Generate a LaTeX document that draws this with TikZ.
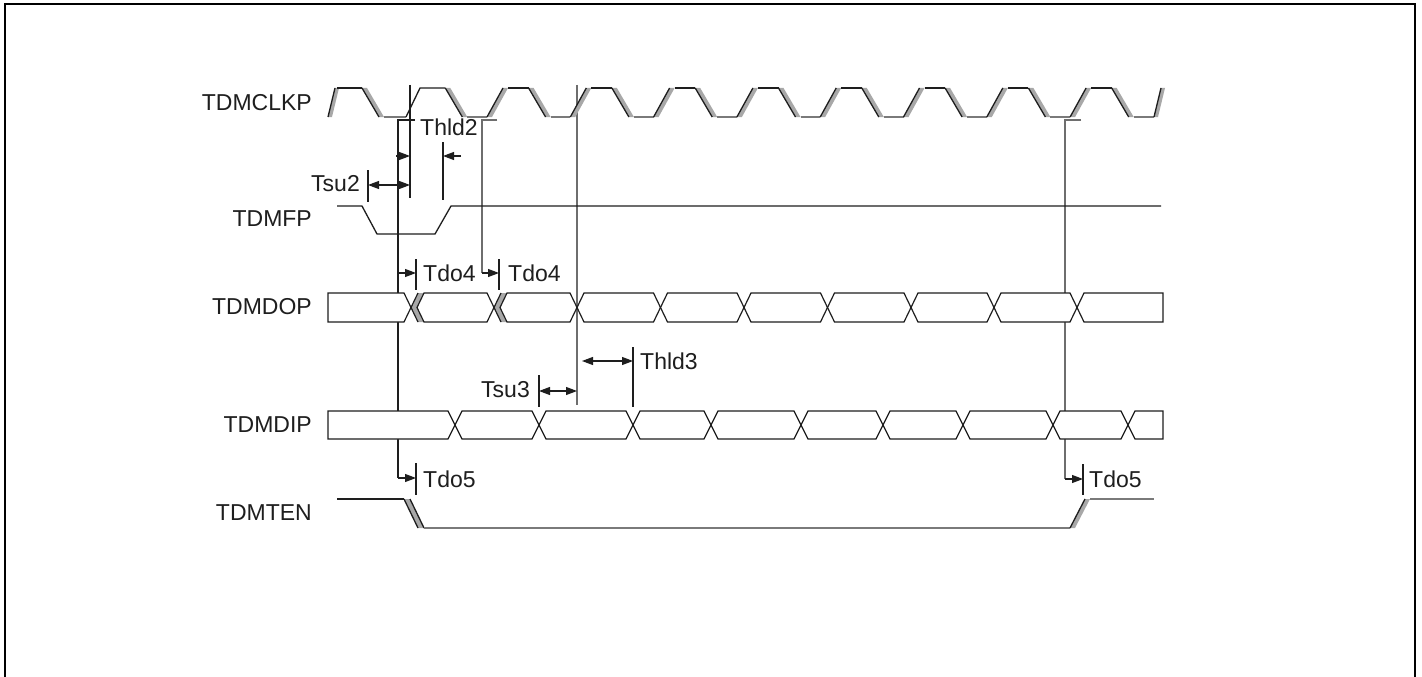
\documentclass[tikz,border=0pt]{standalone}
\usepackage{fontspec}
\setmainfont{Liberation Sans}
\usetikzlibrary{arrows.meta}
\definecolor{bandgray}{HTML}{A8A8A8}
\definecolor{lowgray}{HTML}{7A7A7A}
\definecolor{refgray}{HTML}{6E6E6E}
\definecolor{ink}{HTML}{1E1E1E}
\begin{document}
\begin{tikzpicture}[x=1pt,y=-1pt,
  sig/.style={draw=ink,line width=1.3pt,line join=miter},
  lowsig/.style={draw=lowgray,line width=1.3pt},
  band/.style={fill=bandgray},
  refl/.style={draw=refgray,line width=1.1pt},
  refk/.style={draw=ink,line width=1.1pt},
  tick/.style={draw=ink,line width=1.1pt},
  tri/.tip={Triangle[length=11pt,width=8pt]},
  arr/.style={draw=ink,line width=1.1pt},
  lbl/.style={inner sep=0pt,font=\fontsize{23}{27}\selectfont,text=ink},
  busbox/.style={draw=ink,line width=1.2pt,fill=white,line join=miter}]
\useasboundingbox (0,0) rectangle (1422,677);
\fill[white] (0,0) rectangle (1422,677);
% frame
\draw[line width=2.5pt,black] (5,690) -- (5,4) -- (1415,4) -- (1415,690);

% signal names
\node[lbl,anchor=east] (nclk) at (312,103) {TDMCLKP};
\node[lbl,anchor=east] (nfp)  at (312,219) {TDMFP};
\node[lbl,anchor=east] (ndop) at (312,307) {TDMDOP};
\node[lbl,anchor=east] (ndip) at (312,425) {TDMDIP};
\node[lbl,anchor=east] (nten) at (312,513) {TDMTEN};

% reference vertical lines (drawn first, hidden by bus boxes)
\draw[refk] (410,85) -- (410,198);
\draw[refk] (415,120) -- (398,120) -- (398,478);
\draw[refl] (497,120) -- (482,120) -- (482,273);
\draw[refl] (577,85) -- (577,405);
\draw[refl] (1081,120) -- (1065,120) -- (1065,479);

% ---------- TDMCLKP ----------
\fill[band] (328,117) -- (335,88) -- (339,88) -- (332,117) -- cycle;
\draw[sig] (328,117) -- (335,88);
\draw[sig] (337,88) -- (362,88);
\foreach \k in {0,...,9}{
  \pgfmathsetmacro\f{362+\k*83.3}
  \fill[band] (\f,88) -- (\f+17,117) -- (\f+22,117) -- (\f+5,88) -- cycle;
  \draw[sig] (\f,88) -- (\f+17,117);
}
\draw[lowsig] (384,117) -- (406,117);
\foreach \k in {1,...,8}{
  \pgfmathsetmacro\a{384+\k*83.3}
  \pgfmathsetmacro\b{487+(\k-1)*83.3}
  \draw[lowsig] (\a,117) -- (\b,117);
}
\draw[lowsig] (1133.7,117) -- (1154,117);
\draw[sig] (406,117) -- (420,88) -- (445.3,88);
\foreach \k in {0,...,7}{
  \pgfmathsetmacro\r{487+\k*83.3}
  \pgfmathsetmacro\f{528.6+\k*83.3}
  \fill[band] (\r,117) -- (\r+16,88) -- (\r+21,88) -- (\r+5,117) -- cycle;
  \draw[sig] (\r,117) -- (\r+16,88);
  \draw[sig] (\r+21,88) -- (\f,88);
}
\fill[band] (1154,117) -- (1161,88) -- (1165,88) -- (1158,117) -- cycle;
\draw[sig] (1154,117) -- (1161,88);

% ---------- TDMFP ----------
\draw[sig] (337,206) -- (362,206) -- (377,234) -- (435,234) -- (451,206) -- (1161,206);

% ---------- TDMDOP ----------
\def\bt{293}\def\bb{322}\def\bm{307.5}
\draw[busbox] (328,\bt) -- (404,\bt) -- (411,\bm) -- (404,\bb) -- (328,\bb) -- cycle;
% delayed transitions (gray bands)
\foreach \c in {411,494}{
  \fill[band] (\c+7,\bt) -- (\c,\bm) -- (\c+7,\bb) -- (\c+13,\bb) -- (\c+6,\bm) -- (\c+13,\bt) -- cycle;
  \draw[sig,line width=1.2pt] (\c+7,\bt) -- (\c,\bm) -- (\c+7,\bb);
}
\draw[busbox] (417,\bm) -- (424,\bt) -- (487,\bt) -- (494,\bm) -- (487,\bb) -- (424,\bb) -- cycle;
\draw[busbox] (500,\bm) -- (507,\bt) -- (570,\bt) -- (577,\bm) -- (570,\bb) -- (507,\bb) -- cycle;
\foreach \a/\b in {577/660.5,660.5/744,744/827.5,827.5/911,911/994,994/1077}{
  \draw[busbox] (\a,\bm) -- (\a+7,\bt) -- (\b-7,\bt) -- (\b,\bm) -- (\b-7,\bb) -- (\a+7,\bb) -- cycle;
}
\draw[busbox] (1077,\bm) -- (1084,\bt) -- (1163,\bt) -- (1163,\bb) -- (1084,\bb) -- cycle;

% ---------- TDMDIP ----------
\def\ct{411}\def\cb{439}\def\cm{425}
\draw[busbox] (328,\ct) -- (448,\ct) -- (455,\cm) -- (448,\cb) -- (328,\cb) -- cycle;
\foreach \a/\b in {455/539,539/633,633/711,711/801,801/883,883/963,963/1053,1053/1128}{
  \draw[busbox] (\a,\cm) -- (\a+7,\ct) -- (\b-7,\ct) -- (\b,\cm) -- (\b-7,\cb) -- (\a+7,\cb) -- cycle;
}
\draw[busbox] (1128,\cm) -- (1135,\ct) -- (1163,\ct) -- (1163,\cb) -- (1135,\cb) -- cycle;

% ---------- TDMTEN ----------
\draw[sig] (337,499) -- (404,499);
\fill[band] (404,499) -- (418,528) -- (424,528) -- (410,499) -- cycle;
\draw[sig] (404,499) -- (418,528);
\draw[sig] (410,499) -- (424,528);
\draw[lowsig] (424,528) -- (1070,528);
\fill[band] (1070,528) -- (1085,499) -- (1090,499) -- (1075,528) -- cycle;
\draw[sig] (1070,528) -- (1085,499);
\draw[lowsig] (1090,499) -- (1154,499);

% ---------- timing ticks ----------
\draw[tick] (368,170) -- (368,202);
\draw[tick] (443,142) -- (443,200);
\draw[tick] (416,259) -- (416,290);
\draw[tick] (499,259) -- (499,290);
\draw[tick] (539,375) -- (539,407);
\draw[tick] (633,347) -- (633,407);
\draw[tick] (416,463) -- (416,495);
\draw[tick] (1083,464) -- (1083,495);

% ---------- arrows ----------
\coordinate (tsuA) at (368,185); \coordinate (tsuB) at (410,185);
\draw[arr,tri-tri] (tsuA) -- (tsuB);
\coordinate (thA) at (396,156); \coordinate (thB) at (410,156);
\draw[arr,-tri] (thA) -- (thB);
\coordinate (thC) at (461,156); \coordinate (thD) at (443,156);
\draw[arr,-tri] (thC) -- (thD);
\coordinate (d4a) at (398,273); \coordinate (d4b) at (416,273);
\draw[arr,-tri] (d4a) -- (d4b);
\coordinate (d4c) at (482,273); \coordinate (d4d) at (499,273);
\draw[arr,-tri] (d4c) -- (d4d);
\coordinate (s3a) at (539,391); \coordinate (s3b) at (577,391);
\draw[arr,tri-tri] (s3a) -- (s3b);
\coordinate (h3a) at (582,361); \coordinate (h3b) at (633,361);
\draw[arr,tri-tri] (h3a) -- (h3b);
\coordinate (d5a) at (398,478); \coordinate (d5b) at (416,478);
\draw[arr,-tri] (d5a) -- (d5b);
\coordinate (d5c) at (1065,479); \coordinate (d5d) at (1083,479);
\draw[arr,-tri] (d5c) -- (d5d);

% ---------- timing labels ----------
\node[lbl,anchor=east] (ltsu2) at (360,184) {Tsu2};
\node[lbl,anchor=west] (lthld2) at (420,127) {Thld2};
\node[lbl,anchor=west] (ltdo4a) at (423,273) {Tdo4};
\node[lbl,anchor=west] (ltdo4b) at (508,273) {Tdo4};
\node[lbl,anchor=east] (ltsu3) at (530,390) {Tsu3};
\node[lbl,anchor=west] (lthld3) at (640,361) {Thld3};
\node[lbl,anchor=west] (ltdo5a) at (423,479) {Tdo5};
\node[lbl,anchor=west] (ltdo5b) at (1089,479) {Tdo5};
\end{tikzpicture}
\end{document}
